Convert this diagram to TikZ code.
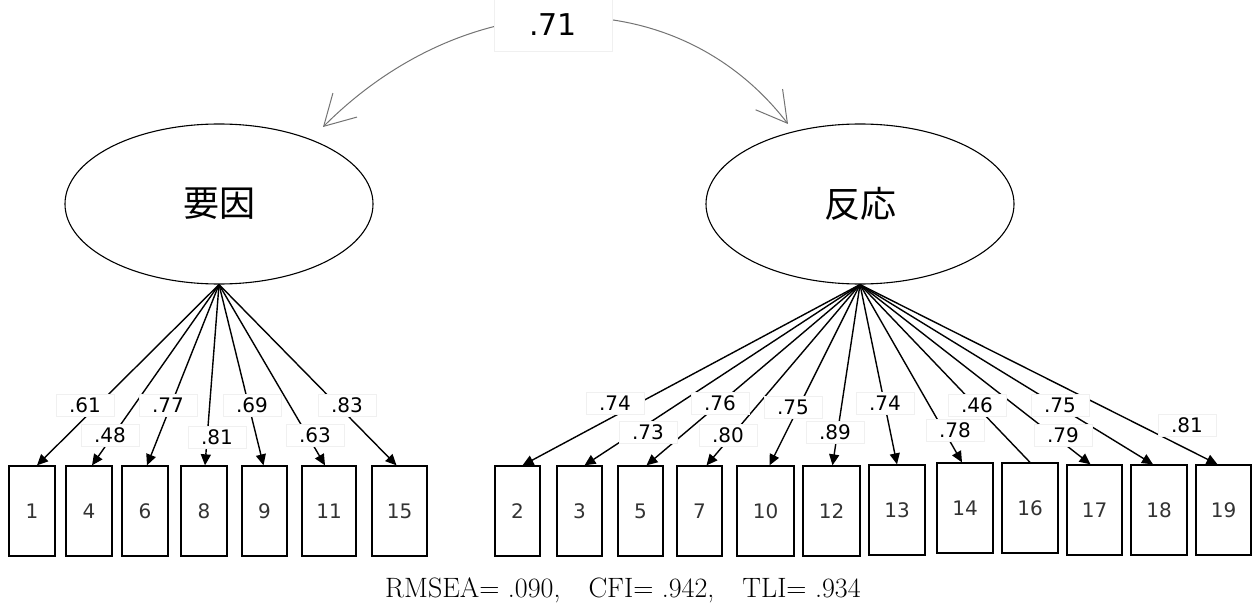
\documentclass[tikz,border=0pt]{standalone}
\usepackage{fontspec}
\newfontfamily\cjkfont{Noto Sans CJK JP}
\newfontfamily\numfont{DejaVu Sans}
\usetikzlibrary{arrows.meta,shapes.geometric}

\begin{document}
\begin{tikzpicture}[x=1pt,y=-1pt,
  latent/.style={draw, line width=1.1pt, fill=white, ellipse, inner sep=0pt,
    minimum width=308pt, minimum height=160pt,
    font=\cjkfont\fontsize{36}{40}\selectfont},
  item/.style={draw, line width=1.3pt, inner sep=0pt, minimum height=90pt,
    text=black!80, font=\numfont\fontsize{20}{22}\selectfont},
  load/.style={fill=white, draw=black!6, inner sep=0pt,
    minimum width=58pt, minimum height=22pt,
    font=\numfont\fontsize{20}{22}\selectfont},
  corr/.style={fill=white, draw=black!6, inner sep=0pt,
    minimum width=118pt, minimum height=52pt,
    font=\numfont\fontsize{30}{32}\selectfont},
  loadline/.style={line width=1.4pt},
  loadarrow/.style={loadline, -{Triangle[length=11pt,width=10pt]}},
  covarrow/.style={line width=1pt, draw=black!55,
    {Straight Barb[length=30pt,width=34pt,line width=1pt]}-{Straight Barb[length=30pt,width=34pt,line width=1pt]}}
]
\useasboundingbox (0,0) rectangle (1252,604);

% latent factors
\node[latent] (f1) at (219,204) {要因};
\node[latent] (f2) at (860,204) {反応};

% observed items of the first factor
\foreach \n/\cx/\w in {1/32/46, 4/89/46, 6/145/46, 8/204/46, 9/264.5/45,
                       11/329/54, 15/399.5/55}
  \node[item, minimum width=\w pt] (b\n) at (\cx,511) {\n};

% observed items of the second factor
\foreach \n/\cx/\w/\cy in {2/517.5/45/511, 3/579.5/45/511, 5/640.5/45/511,
                           7/699.5/45/511, 10/765.5/57/511, 12/831.5/57/511,
                           13/897/56/510, 14/965/56/508, 16/1030/56/508,
                           17/1094.5/55/510, 18/1159/56/510, 19/1223.5/55/510}
  \node[item, minimum width=\w pt] (b\n) at (\cx,\cy) {\n};

% factor loadings
\foreach \n/\dx in {1/5, 4/3, 6/2, 8/1, 9/-1, 11/-4, 15/-3}
  \draw[loadarrow] (f1.south) -- ([xshift=\dx pt]b\n.north);
\foreach \n/\dx in {2/5, 3/5, 5/6, 7/7, 10/4, 12/1, 13/0, 14/-3, 17/-4, 18/-6, 19/-6}
  \draw[loadarrow] (f2.south) -- ([xshift=\dx pt]b\n.north);
\draw[loadline] (f2.south) -- (b16.north);

% loading values
\foreach \v/\x/\y [count=\i] in {.61/85/405, .48/110/435, .77/168/405, .81/217/437,
                     .69/252/405, .63/315/435, .83/347/405}
  \node[load] (la\i) at (\x,\y) {\v};
\foreach \v/\x/\y [count=\i] in {.74/615/403, .73/648/432, .76/720/403, .80/728/435,
                     .75/793/407, .89/835/432, .74/885/403, .78/955/430,
                     .46/977/405, .75/1060/405, .79/1063/435, .81/1187/425}
  \node[load] (lb\i) at (\x,\y) {\v};

% factor covariance
\coordinate (c1) at (323,127);
\coordinate (c2) at (788,124);
\draw[covarrow] (c1) .. controls (469,-19) and (678,-19) .. (c2);
\node[corr] (r) at (553,25) {.71};

% fit indices
\node[anchor=base west, inner sep=0pt, font=\fontsize{28}{32}\selectfont]
  (fit) at (385,597) {RMSEA= .090,\quad CFI= .942,\quad TLI= .934};
\end{tikzpicture}
\end{document}
